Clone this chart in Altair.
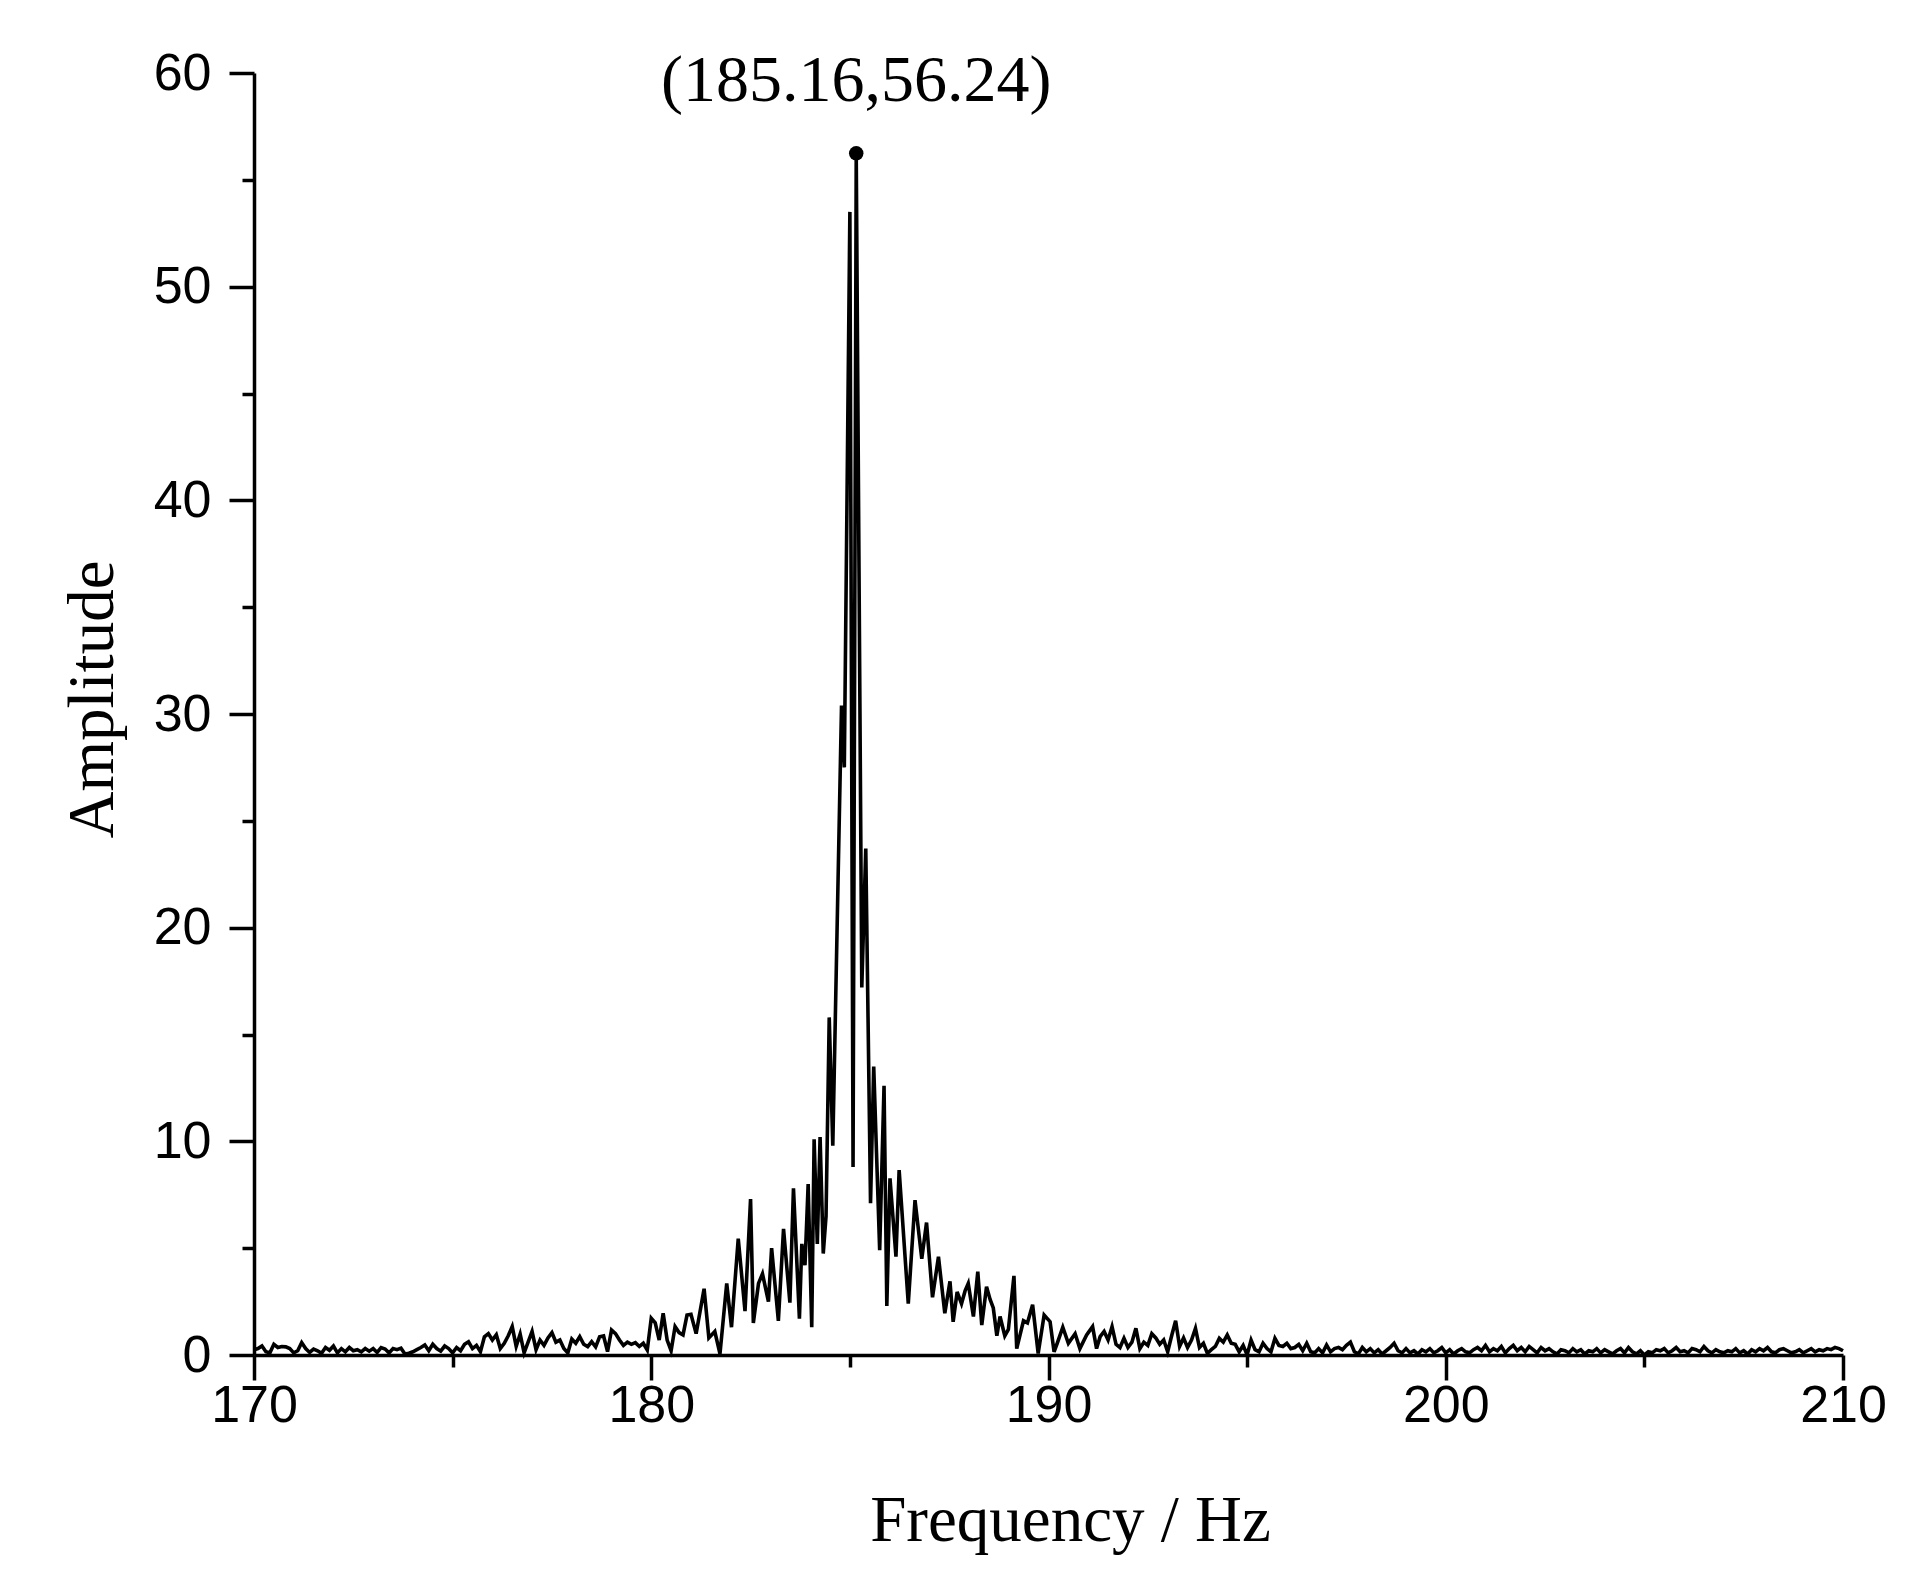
import altair as alt
import pandas as pd

# ---------------- data ----------------
left_start = 170.0  # 0.1 Hz bins, 170.0 .. 180.9
left_amp = [
    0.25, 0.30, 0.42, 0.15, 0.10, 0.50, 0.35, 0.40, 0.38, 0.30,
    0.10, 0.20, 0.58, 0.30, 0.12, 0.28, 0.20, 0.08, 0.35, 0.22,
    0.42, 0.10, 0.30, 0.15, 0.35, 0.20, 0.25, 0.15, 0.30, 0.18,
    0.30, 0.12, 0.35, 0.28, 0.10, 0.30, 0.25, 0.32, 0.05, 0.08,
    0.15, 0.25, 0.35, 0.47, 0.20, 0.50, 0.30, 0.18, 0.42, 0.30,
    0.10, 0.35, 0.20, 0.50, 0.62, 0.30, 0.45, 0.15, 0.85, 1.00,
    0.70, 0.95, 0.30, 0.55, 0.90, 1.33, 0.40, 0.98, 0.10, 0.60,
    1.10, 0.25, 0.70, 0.45, 0.80, 1.05, 0.60, 0.70, 0.30, 0.10,
    0.75, 0.55, 0.86, 0.50, 0.39, 0.62, 0.38, 0.85, 0.89, 0.16,
    1.17, 1.00, 0.70, 0.45, 0.60, 0.50, 0.58, 0.40, 0.55, 0.23,
    1.72, 1.50, 0.70, 1.95, 0.70, 0.20, 1.33, 1.05, 0.94, 1.87,
]

center_freq = [
    181.00, 181.13, 181.33, 181.45, 181.60, 181.73, 181.90, 182.02, 182.19, 182.36,
    182.50, 182.57, 182.70, 182.80, 182.95, 183.03, 183.20, 183.33, 183.49, 183.58,
    183.73, 183.79, 183.87, 183.95, 184.04, 184.10, 184.18, 184.25, 184.33, 184.40,
    184.48, 184.57, 184.79, 184.86, 185.00, 185.08, 185.16, 185.30, 185.40, 185.52,
    185.60, 185.75, 185.86, 185.93, 186.01, 186.16, 186.24, 186.47, 186.64, 186.81,
    186.93, 187.08, 187.23, 187.39, 187.52, 187.60, 187.70, 187.81, 187.90, 187.98,
    188.11, 188.22, 188.32, 188.44, 188.53, 188.61, 188.70, 188.78, 188.90, 188.99,
    189.13, 189.20, 189.37, 189.47, 189.60, 189.74, 189.89, 190.04, 190.14, 190.22,
    190.36, 190.50, 190.67, 190.79, 190.96, 191.11, 191.21, 191.30,
]
center_amp = [
    1.90, 1.00, 3.10, 0.80, 1.10, 0.05, 3.35, 1.30, 5.45, 2.05,
    7.30, 1.50, 3.35, 3.80, 2.50, 5.00, 1.60, 5.90, 2.45, 7.80,
    1.70, 5.20, 4.20, 8.00, 1.30, 10.10, 5.20, 10.20, 4.75, 6.50,
    15.80, 9.80, 30.40, 27.50, 53.50, 8.80, 56.24, 17.20, 23.70, 7.10,
    13.50, 4.90, 12.60, 2.30, 8.27, 4.60, 8.65, 2.40, 7.25, 4.50,
    6.20, 2.70, 4.60, 1.95, 3.45, 1.55, 2.95, 2.40, 3.00, 3.35,
    1.80, 3.90, 1.40, 3.20, 2.60, 2.20, 0.90, 1.80, 0.90, 1.20,
    3.70, 0.30, 1.60, 1.50, 2.35, 0.07, 1.87, 1.56, 0.15, 0.55,
    1.30, 0.55, 1.00, 0.30, 0.94, 1.33, 0.30, 0.86,
]

right_start = 191.4  # 0.1 Hz bins, 191.4 .. 210.0
right_amp = [
    1.10, 0.70, 1.33, 0.50, 0.35, 0.78,
    0.35, 0.60, 1.25, 0.30, 0.60, 0.45, 1.00, 0.80, 0.50, 0.70,
    0.15, 0.90, 1.60, 0.40, 0.80, 0.35, 0.70, 1.25, 0.35, 0.55,
    0.08, 0.25, 0.40, 0.78, 0.60, 0.94, 0.55, 0.50, 0.15, 0.45,
    0.00, 0.70, 0.25, 0.15, 0.55, 0.30, 0.15, 0.78, 0.45, 0.40,
    0.55, 0.30, 0.35, 0.50, 0.20, 0.55, 0.15, 0.10, 0.30, 0.10,
    0.47, 0.15, 0.30, 0.35, 0.25, 0.45, 0.60, 0.15, 0.05, 0.35,
    0.15, 0.30, 0.10, 0.25, 0.05, 0.20, 0.35, 0.55, 0.20, 0.10,
    0.30, 0.10, 0.20, 0.05, 0.25, 0.15, 0.30, 0.10, 0.20, 0.35,
    0.10, 0.25, 0.05, 0.20, 0.30, 0.15, 0.10, 0.25, 0.35, 0.20,
    0.45, 0.15, 0.30, 0.20, 0.40, 0.10, 0.30, 0.45, 0.20, 0.35,
    0.15, 0.40, 0.25, 0.10, 0.35, 0.20, 0.30, 0.15, 0.05, 0.25,
    0.20, 0.10, 0.30, 0.15, 0.25, 0.05, 0.20, 0.15, 0.30, 0.10,
    0.25, 0.15, 0.05, 0.20, 0.30, 0.10, 0.35, 0.15, 0.05, 0.20,
    0.00, 0.15, 0.10, 0.25, 0.20, 0.30, 0.10, 0.20, 0.35, 0.15,
    0.20, 0.10, 0.30, 0.25, 0.15, 0.40, 0.20, 0.10, 0.25, 0.15,
    0.10, 0.20, 0.15, 0.30, 0.10, 0.20, 0.05, 0.25, 0.15, 0.30,
    0.20, 0.35, 0.15, 0.10, 0.25, 0.30, 0.20, 0.10, 0.15, 0.25,
    0.10, 0.20, 0.30, 0.15, 0.25, 0.20, 0.30, 0.25, 0.35, 0.30,
    0.20,
]

peak_freq = 185.16
peak_amp = 56.24

x_major = [170, 180, 190, 200, 210]
x_minor = [175, 185, 195, 205]
y_major = [0, 10, 20, 30, 40, 50, 60]
y_minor = [5, 15, 25, 35, 45, 55]

# ---------------- assemble ----------------
freq = [round(left_start + 0.1 * i, 2) for i in range(len(left_amp))]
freq += center_freq
freq += [round(right_start + 0.1 * i, 2) for i in range(len(right_amp))]
amp = left_amp + center_amp + right_amp
df = pd.DataFrame({"freq": freq, "amp": amp})
df = df[df["freq"] <= 210.0]

peak_df = pd.DataFrame({
    "freq": [peak_freq],
    "amp": [peak_amp],
    "label": [f"({peak_freq:.2f},{peak_amp:.2f})"],
})

W, H = 1589, 1282
xscale = alt.Scale(domain=[170, 210], nice=False, zero=False)
yscale = alt.Scale(domain=[0, 60], nice=False, zero=True)

SANS = "Liberation Sans"
SERIF = "Liberation Serif"

x_axis = alt.Axis(
    values=x_major, orient="bottom", grid=False,
    tickSize=25, tickWidth=3.5, tickColor="black",
    domainWidth=3.5, domainColor="black",
    labelFont=SANS, labelFontSize=52, labelColor="black", labelPadding=0,
    labelFlush=False, labelOverlap=False,
    title="Frequency / Hz", titleFont=SERIF, titleFontSize=65,
    titleFontWeight="normal", titleColor="black",
    titleX=816, titleY=185, titleBaseline="alphabetic", titleAlign="center",
)
y_axis = alt.Axis(
    values=y_major, orient="left", grid=False,
    tickSize=25, tickWidth=3.5, tickColor="black",
    domainWidth=3.5, domainColor="black",
    labelFont=SANS, labelFontSize=52, labelColor="black", labelPadding=18,
    labelFlush=False, labelOverlap=False,
    title="Amplitude", titleFont=SERIF, titleFontSize=65,
    titleFontWeight="normal", titleColor="black",
    titleX=-142, titleY=626, titleAngle=270, titleBaseline="alphabetic",
    titleAlign="center",
)

line = alt.Chart(df).mark_line(color="black", strokeWidth=3.6).encode(
    x=alt.X("freq:Q", scale=xscale, axis=x_axis),
    y=alt.Y("amp:Q", scale=yscale, axis=y_axis),
)

minor = alt.Chart(df).mark_line(opacity=0).encode(
    x=alt.X("freq:Q", scale=xscale, title=None, axis=alt.Axis(
        values=x_minor, orient="bottom", grid=False, labels=False, domain=False,
        tickSize=12, tickWidth=3.5, tickColor="black")),
    y=alt.Y("amp:Q", scale=yscale, title=None, axis=alt.Axis(
        values=y_minor, orient="left", grid=False, labels=False, domain=False,
        tickSize=12, tickWidth=3.5, tickColor="black")),
)

dot = alt.Chart(peak_df).mark_circle(color="black", opacity=1, size=210).encode(
    x=alt.X("freq:Q", scale=xscale, axis=None),
    y=alt.Y("amp:Q", scale=yscale, axis=None),
)

label = alt.Chart(peak_df).mark_text(
    font=SERIF, fontSize=66, color="black", align="center",
    baseline="alphabetic", dy=-52,
).encode(
    x=alt.X("freq:Q", scale=xscale, axis=None),
    y=alt.Y("amp:Q", scale=yscale, axis=None),
    text="label:N",
)

chart = alt.layer(line, minor, dot, label).resolve_axis(
    x="independent", y="independent"
).properties(
    width=W, height=H,
    padding={"left": 246, "top": 65, "right": 70, "bottom": 215},
    autosize=alt.AutoSizeParams(type="none"),
    background="white",
).configure_view(stroke=None)

chart.save("out.html", embed_options={"renderer": "svg", "actions": False})
